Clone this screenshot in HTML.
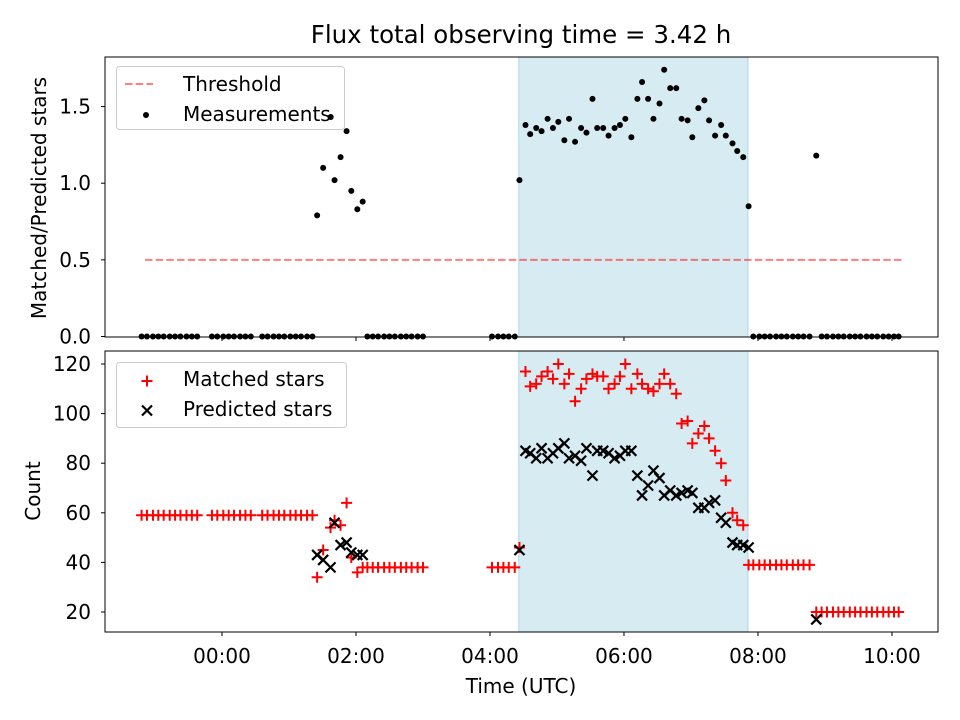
<!DOCTYPE html>
<html><head><meta charset="utf-8"><style>
html,body{margin:0;padding:0;background:#fff;}
svg text{font-family:"DejaVu Sans","Liberation Sans",sans-serif;fill:#000;}
</style></head><body>
<svg id="chart" width="960" height="720" viewBox="0 0 960 720" xmlns="http://www.w3.org/2000/svg" style="position:absolute;left:0;top:0">
<rect width="960" height="720" fill="#fff"/>
<g id="top"></g><g id="bot"></g><g id="over"></g>
</svg>
<script>
// ---- data (time in hours UTC) ----
const times = [-1.2,-1.12,-1.03,-0.95,-0.87,-0.78,-0.7,-0.62,-0.53,-0.45,-0.37,
 -0.15,-0.07,0.02,0.1,0.18,0.27,0.35,0.43,
 0.6,0.68,0.77,0.85,0.93,1.02,1.1,1.18,1.27,1.35,
 1.42,1.51,1.62,1.68,1.77,1.86,1.93,2.02,2.10,
 2.17,2.25,2.33,2.42,2.5,2.58,2.67,2.75,2.83,2.92,3.0,
 4.03,4.12,4.2,4.28,4.37,4.44,
 4.53,4.60,4.69,4.77,4.86,4.94,5.02,5.11,5.18,5.27,5.36,5.44,5.53,5.60,5.69,5.77,5.86,5.94,6.02,6.11,
 6.20,6.27,6.36,6.44,6.53,6.60,6.69,6.78,6.86,6.95,7.02,7.11,7.20,7.27,7.36,7.45,7.52,7.62,7.69,7.78,7.86,
 7.93,8.02,8.1,8.18,8.27,8.35,8.43,8.52,8.6,8.68,8.77,
 8.87,
 8.95,9.03,9.12,9.2,9.28,9.37,9.45,9.53,9.62,9.7,9.78,9.87,9.95,10.03,10.1];
const matched = [59,59,59,59,59,59,59,59,59,59,59,
 59,59,59,59,59,59,59,59,
 59,59,59,59,59,59,59,59,59,59,
 34,45,54,57,55,64,42,36,38,
 38,38,38,38,38,38,38,38,38,38,38,
 38,38,38,38,38,46,
 117,111,112,115,117,114,120,112,116,105,110,114,116,115,115,110,112,115,120,110,
 116,112,110,109,112,116,112,108,96,97,88,92,95,90,85,80,73,60,57,55,39,
 39,39,39,39,39,39,39,39,39,39,39,
 20,
 20,20,20,20,20,20,20,20,20,20,20,20,20,20,20];
const predicted = [0,0,0,0,0,0,0,0,0,0,0,
 0,0,0,0,0,0,0,0,
 0,0,0,0,0,0,0,0,0,0,
 43,41,38,56,47,48,44,43,43,
 0,0,0,0,0,0,0,0,0,0,0,
 0,0,0,0,0,45,
 85,84,82,86,82,84,86,88,82,83,81,86,75,85,85,84,82,83,85,85,
 75,67,71,77,74,67,69,67,68,69,68,62,62,64,65,58,56,48,47,47,46,
 0,0,0,0,0,0,0,0,0,0,0,
 17,
 0,0,0,0,0,0,0,0,0,0,0,0,0,0,0];
const ratio = [0,0,0,0,0,0,0,0,0,0,0,
 0,0,0,0,0,0,0,0,
 0,0,0,0,0,0,0,0,0,0,
 0.79,1.10,1.43,1.02,1.17,1.34,0.95,0.83,0.88,
 0,0,0,0,0,0,0,0,0,0,0,
 0,0,0,0,0,1.02,
 1.38,1.32,1.36,1.34,1.42,1.36,1.40,1.28,1.42,1.27,1.36,1.33,1.55,1.36,1.36,1.31,1.36,1.38,1.42,1.30,
 1.55,1.66,1.55,1.42,1.52,1.74,1.62,1.62,1.42,1.41,1.30,1.49,1.54,1.41,1.31,1.38,1.31,1.26,1.21,1.17,0.85,
 0,0,0,0,0,0,0,0,0,0,0,
 1.18,
 0,0,0,0,0,0,0,0,0,0,0,0,0,0,0];
const threshold = [0.5];
const thresholdSpan = [-1.15, 10.15];
const window_ = [4.43, 7.85];
const xTicks = [0,2,4,6,8,10];
const xTickLabels = ["00:00","02:00","04:00","06:00","08:00","10:00"];
const topTicks = [0,0.5,1.0,1.5];
const topTickLabels = ["0.0","0.5","1.0","1.5"];
const botTicks = [20,40,60,80,100,120];
const botTickLabels = ["20","40","60","80","100","120"];

// ---- axes ----
const L=105, R=938, TT=57, TB=337, BT=351, BB=632;
const xMin=-1.746, xMax=10.687;
const x = h => L + (h - xMin)/(xMax - xMin)*(R-L);
const yTop = v => 336.5 - v*153.3;
const yBot = v => 612 - (v-20)*2.48;
const NS="http://www.w3.org/2000/svg";
function mk(parent, tag, attrs){const e=document.createElementNS(NS,tag);for(const k in attrs)e.setAttribute(k,attrs[k]);parent.appendChild(e);return e;}
const gT=document.getElementById('top'), gB=document.getElementById('bot'), gO=document.getElementById('over');

for (const [g,y0,y1] of [[gT,TT,TB],[gB,BT,BB]]) {
  const r=mk(g,'rect',{x:x(window_[0]),y:y0,width:x(window_[1])-x(window_[0]),height:y1-y0,fill:'#add8e6','fill-opacity':0.5,stroke:'#add8e6','stroke-width':1});
  
  
}
const th=mk(gT,'line',{x1:x(thresholdSpan[0]),x2:x(thresholdSpan[1]),y1:yTop(threshold[0]),y2:yTop(threshold[0]),stroke:'#ff0000','stroke-opacity':0.5,'stroke-width':2,'stroke-dasharray':'7.5,3.2'});



for (let i=0;i<times.length;i++){
  const c=mk(gT,'circle',{cx:x(times[i]),cy:yTop(ratio[i]),r:3,fill:'#000'});
  
  
}
function plus(g,cx,cy){return mk(g,'path',{d:`M${cx-5.5},${cy}H${cx+5.5}M${cx},${cy-5.5}V${cy+5.5}`,stroke:'#ff0000','stroke-width':2,fill:'none'});}
function cross(g,cx,cy){return mk(g,'path',{d:`M${cx-5},${cy-5}L${cx+5},${cy+5}M${cx-5},${cy+5}L${cx+5},${cy-5}`,stroke:'#000','stroke-width':2.2,fill:'none'});}
for (let i=0;i<times.length;i++){
  const p=plus(gB,x(times[i]),yBot(matched[i]));
  
  
}
for (let i=0;i<times.length;i++){
  if (predicted[i] < 12) continue;
  const p=cross(gB,x(times[i]),yBot(predicted[i]));
  
  
}

for (const [y0,y1,nm] of [[TT,TB,'top-axes-frame'],[BT,BB,'bottom-axes-frame']]) {
  const f=mk(gO,'rect',{x:L,y:y0,width:R-L,height:y1-y0,fill:'none',stroke:'#000','stroke-width':1});
  
  
}
xTicks.forEach((t,i)=>{
  mk(gO,'line',{x1:x(t),x2:x(t),y1:TB,y2:TB+4,stroke:'#000','stroke-width':1});
  mk(gO,'line',{x1:x(t),x2:x(t),y1:BB,y2:BB+4,stroke:'#000','stroke-width':1});
  const tx=mk(gO,'text',{x:x(t),y:663,'text-anchor':'middle','font-size':20});
  tx.textContent=xTickLabels[i];
  
  
});
topTicks.forEach((t,i)=>{
  mk(gO,'line',{x1:L-4,x2:L,y1:yTop(t),y2:yTop(t),stroke:'#000','stroke-width':1});
  const tx=mk(gO,'text',{x:91,y:yTop(t)+7,'text-anchor':'end','font-size':20});
  tx.textContent=topTickLabels[i];
  
  
});
botTicks.forEach((t,i)=>{
  mk(gO,'line',{x1:L-4,x2:L,y1:yBot(t),y2:yBot(t),stroke:'#000','stroke-width':1});
  const tx=mk(gO,'text',{x:91,y:yBot(t)+7,'text-anchor':'end','font-size':20});
  tx.textContent=botTickLabels[i];
  
  
});
</script>
<svg style="position:absolute;left:0;top:0" width="960" height="720" xmlns="http://www.w3.org/2000/svg">
<text x="521" y="43" text-anchor="middle" font-size="24.5">Flux total observing time = 3.42 h</text>
<text transform="translate(46,198) rotate(-90)" text-anchor="middle" font-size="20">Matched/Predicted stars</text>
<text transform="translate(40,491) rotate(-90)" text-anchor="middle" font-size="20">Count</text>
<text x="521" y="693" text-anchor="middle" font-size="20">Time (UTC)</text>
<g>
<rect x="116.5" y="66.5" width="228" height="63" rx="3" fill="#fff" fill-opacity="0.8" stroke="#ccc"/>
<line x1="125" x2="153" y1="84" y2="84" stroke="#ff0000" stroke-opacity="0.5" stroke-width="2" stroke-dasharray="7.5,3.2"/>
<text x="183" y="91" font-size="20">Threshold</text>
<circle cx="146" cy="115" r="3" fill="#000"/>
<text x="183" y="121" font-size="20">Measurements</text>
<circle cx="330.7" cy="117" r="3" fill="#000"/>
</g>
<g>
<rect x="116.5" y="362.5" width="230" height="65" rx="3" fill="#fff" fill-opacity="0.8" stroke="#ccc"/>
<path d="M141.5,381H152.5M147,375.5V386.5" stroke="#ff0000" stroke-width="2"/>
<text x="183" y="386" font-size="20">Matched stars</text>
<path d="M142,405.5L152,415.5M142,415.5L152,405.5" stroke="#000" stroke-width="2.2"/>
<text x="183" y="416" font-size="20">Predicted stars</text>
</g>
</svg>
</body></html>
